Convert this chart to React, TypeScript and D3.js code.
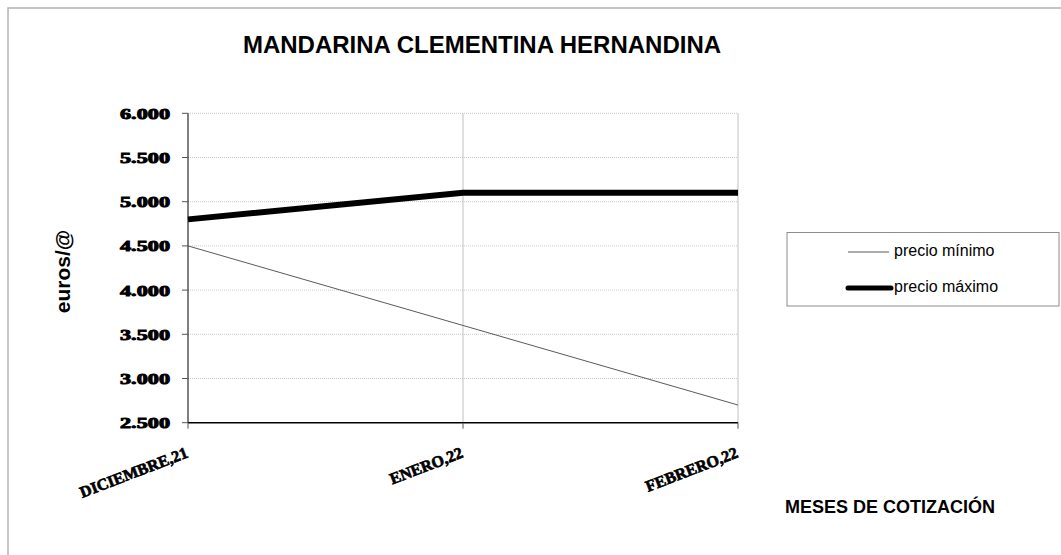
import React from "react";
import * as d3 from "d3";

const categories = ["DICIEMBRE,21", "ENERO,22", "FEBRERO,22"];
const precioMinimo = [4500, 3600, 2700];
const precioMaximo = [4800, 5100, 5100];
const yTicks = [2500, 3000, 3500, 4000, 4500, 5000, 5500, 6000];
const title = "MANDARINA CLEMENTINA HERNANDINA";
const yTitle = "euros/@";
const xTitle = "MESES DE COTIZACIÓN";
const seriesNames = ["precio mínimo", "precio máximo"];

const W = 1061;
const H = 555;
const left = 188;
const right = 738;
const top = 113.3;
const bottom = 422.7;

export default function App() {
  const x = d3.scalePoint<string>().domain(categories).range([left, right]);
  const y = d3.scaleLinear().domain([2500, 6000]).range([bottom, top]);
  const line = d3
    .line<number>()
    .x((_, i) => x(categories[i]) as number)
    .y((d) => y(d));
  const fmt = (v: number) => d3.format(",")(v).replace(/,/g, ".");
  const serif = "'Liberation Serif', 'Times New Roman', serif";
  const sans = "'Liberation Sans', Arial, sans-serif";

  return (
    <svg
      width={W}
      height={H}
      style={{ position: "absolute", left: 0, top: 0, background: "#fff" }}
    >
      <rect x={8} y={8} width={1200} height={700} fill="#fff" stroke="#b3b3b3" strokeWidth={1.5} />
      <text x={482} y={53} textAnchor="middle" fontFamily={sans} fontWeight="bold" fontSize={24}>
        {title}
      </text>

      {/* gridlines */}
      {yTicks.map((t) =>
        t === 2500 ? null : (
          <line key={t} x1={left} x2={right} y1={y(t)} y2={y(t)} stroke="#c8c8c8" strokeWidth={1} strokeDasharray="1,1" />
        )
      )}
      {categories.slice(1).map((c) => (
        <line key={c} x1={x(c)} x2={x(c)} y1={top} y2={bottom} stroke="#c0c0c0" strokeWidth={1} />
      ))}

      {/* axes */}
      <line x1={left} x2={left} y1={top} y2={bottom} stroke="#000" strokeWidth={1} />
      <line x1={left} x2={right} y1={bottom} y2={bottom} stroke="#000" strokeWidth={1.5} />
      {yTicks.map((t) => (
        <g key={t}>
          <line x1={left - 6} x2={left} y1={y(t)} y2={y(t)} stroke="#555" strokeWidth={1} />
          <text
            x={170}
            y={y(t) + 5.4}
            textAnchor="end"
            fontFamily={serif}
            fontWeight="bold"
            fontSize={14.5}
            stroke="#000"
            strokeWidth={0.9}
            textLength={50}
            lengthAdjust="spacingAndGlyphs"
          >
            {fmt(t)}
          </text>
        </g>
      ))}
      {categories.map((c) => (
        <g key={c}>
          <line x1={x(c)} x2={x(c)} y1={bottom} y2={bottom + 6} stroke="#555" strokeWidth={1} />
          <text
            transform={`translate(${(x(c) as number) + 1},${457}) rotate(-21)`}
            textAnchor="end"
            fontFamily={serif}
            fontWeight="bold"
            fontSize={16}
            stroke="#000"
            strokeWidth={0.7}
          >
            {c}
          </text>
        </g>
      ))}

      {/* series */}
      <path d={line(precioMinimo) || ""} fill="none" stroke="#5a5a5a" strokeWidth={1} />
      <path d={line(precioMaximo) || ""} fill="none" stroke="#000" strokeWidth={6} />

      {/* axis titles */}
      <text
        transform={`translate(70,${271.5}) rotate(-90)`}
        textAnchor="middle"
        fontFamily={sans}
        fontWeight="bold"
        fontSize={21}
      >
        {yTitle}
      </text>
      <text x={890} y={513} textAnchor="middle" fontFamily={sans} fontWeight="bold" fontSize={18}>
        {xTitle}
      </text>

      {/* legend */}
      <rect x={787} y={232.5} width={272} height={73.5} fill="#fff" stroke="#8c8c8c" strokeWidth={1} />
      <line x1={848} x2={889} y1={252} y2={252} stroke="#5a5a5a" strokeWidth={1} />
      <text x={894} y={256} fontFamily={sans} fontSize={16}>
        {seriesNames[0]}
      </text>
      <line x1={848} x2={891} y1={288} y2={288} stroke="#000" strokeWidth={5} strokeLinecap="round" />
      <text x={894} y={292} fontFamily={sans} fontSize={16}>
        {seriesNames[1]}
      </text>
    </svg>
  );
}
